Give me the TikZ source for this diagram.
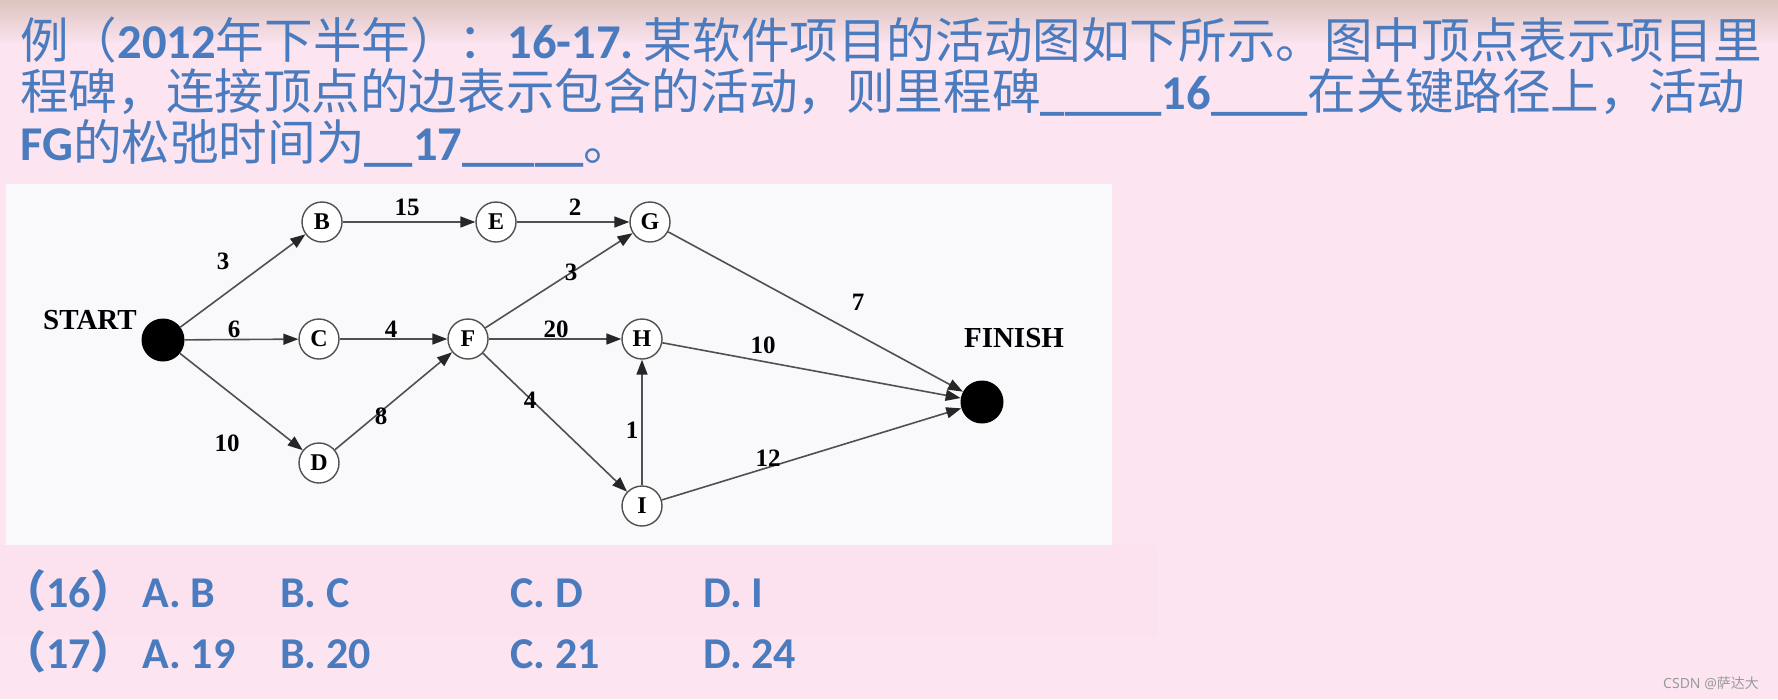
\documentclass[tikz,border=0pt]{standalone}
\usepackage{fontspec}
\setmainfont{Liberation Serif}
\newfontfamily\cjk{Noto Sans CJK SC}
\newfontfamily\latf{Carlito}
\newfontfamily\wmfont{Noto Sans}
\usetikzlibrary{arrows.meta}
\definecolor{bgpink}{HTML}{FCE4F1}
\definecolor{optpink}{HTML}{FCE2EF}
\definecolor{toptan}{HTML}{DCC4BF}
\definecolor{tblue}{HTML}{4A7BBE}
\definecolor{boxwhite}{HTML}{F9F9FB}
\definecolor{edgegray}{HTML}{505050}
\definecolor{wmgray}{HTML}{9A9A9A}
\newcommand\myl[1]{{\latf\bfseries #1}}
\begin{document}
\begin{tikzpicture}[x=1pt,y=-1pt,
  ms/.style={circle, draw=edgegray, line width=1.4pt, fill=white, minimum size=40pt, inner sep=0pt, font=\fontsize{24}{24}\selectfont\bfseries},
  term/.style={circle, fill=black, minimum size=43pt, inner sep=0pt},
  act/.style={draw=edgegray, line width=1.6pt, -{Triangle[length=15pt,width=11pt,color=black!85,fill=black!85]}},
  wlab/.style={font=\fontsize{25}{25}\selectfont\bfseries, inner sep=0pt},
  tlab/.style={font=\fontsize{29}{29}\selectfont\bfseries, inner sep=0pt},
  ttl/.style={anchor=base west, text=tblue, inner sep=0pt, font=\fontsize{48.6}{52}\selectfont},
  opt/.style={anchor=base west, text=tblue, inner sep=0pt, font=\fontsize{44}{48}\selectfont\latf\bfseries}]
\useasboundingbox (0,0) rectangle (1778,699);
% background
\fill[bgpink] (0,0) rectangle (1778,699);
\shade[top color=toptan, bottom color=bgpink] (0,0) rectangle (1778,45);
\fill[optpink] (0,545) rectangle (1157,637);
\fill[boxwhite] (6,184) rectangle (1112,545);
% title
\node[ttl] (t1) at (20,58) {{\cjk 例（}\myl{2012}{\cjk 年下半年）：}\myl{16-17.}\hspace{10pt}{\cjk 某软件项目的活动图如下所示。图中顶点表示项目里}};
\node[ttl] (t2) at (20,109) {{\cjk 程碑，连接顶点的边表示包含的活动，则里程碑}\myl{\_\_\_\_\_16\_\_\_\_}{\cjk 在关键路径上，活动}};
\node[ttl] (t3) at (20,160) {\myl{FG}{\cjk 的松弛时间为}\myl{\_\_17\_\_\_\_\_}{\cjk 。}};
% graph nodes
\node[term] (start) at (163,340) {};
\node[tlab] (startl) at (90,320) {START};
\node[ms] (B) at (322,222) {B};
\node[ms] (E) at (496,222) {E};
\node[ms] (G) at (650,222) {G};
\node[ms] (C) at (319,339) {C};
\node[ms] (F) at (468,339) {F};
\node[ms] (H) at (642,339) {H};
\node[ms] (D) at (319,463) {D};
\node[ms] (I) at (642,506) {I};
\node[term] (fin) at (982,402) {};
\node[tlab] (finl) at (1014,338) {FINISH};
% edges
\draw[act] (start) -- (B);
\draw[act] (start) -- (C);
\draw[act] (start) -- (D);
\draw[act] (B) -- (E);
\draw[act] (E) -- (G);
\draw[act] (C) -- (F);
\draw[act] (D) -- (F);
\draw[act] (F) -- (G);
\draw[act] (F) -- (H);
\draw[act] (F) -- (I);
\draw[act] (I) -- (H);
\draw[act] (G) -- (fin);
\draw[act] (H) -- (fin);
\draw[act] (I) -- (fin);
% edge labels
\node[wlab] (lSB) at (223,261) {3};
\node[wlab] (lSC) at (234,329) {6};
\node[wlab] (lSD) at (227,443) {10};
\node[wlab] (lBE) at (407,207) {15};
\node[wlab] (lEG) at (575,207) {2};
\node[wlab] (lCF) at (391,329) {4};
\node[wlab] (lDF) at (381,416) {8};
\node[wlab] (lFG) at (571,272) {3};
\node[wlab] (lFH) at (556,329) {20};
\node[wlab] (lFI) at (530,400) {4};
\node[wlab] (lIH) at (632,430) {1};
\node[wlab] (lGX) at (858,302) {7};
\node[wlab] (lHX) at (763,345) {10};
\node[wlab] (lIX) at (768,458) {12};
% options
\node[opt] (o16) at (2,607) {{\cjk （}16{\cjk ）}};
\node[opt] (o16a) at (142,607) {A. B};
\node[opt] (o16b) at (280,607) {B. C};
\node[opt] (o16c) at (510,607) {C. D};
\node[opt] (o16d) at (703,607) {D. I};
\node[opt] (o17) at (2,668) {{\cjk （}17{\cjk ）}};
\node[opt] (o17a) at (142,668) {A. 19};
\node[opt] (o17b) at (280,668) {B. 20};
\node[opt] (o17c) at (510,668) {C. 21};
\node[opt] (o17d) at (703,668) {D. 24};
% watermark
\node[anchor=west, inner sep=0pt, text=wmgray, font=\fontsize{14}{14}\selectfont] (wm) at (1663,683) {\wmfont CSDN @{\cjk 萨达大}};
\end{tikzpicture}
\end{document}
